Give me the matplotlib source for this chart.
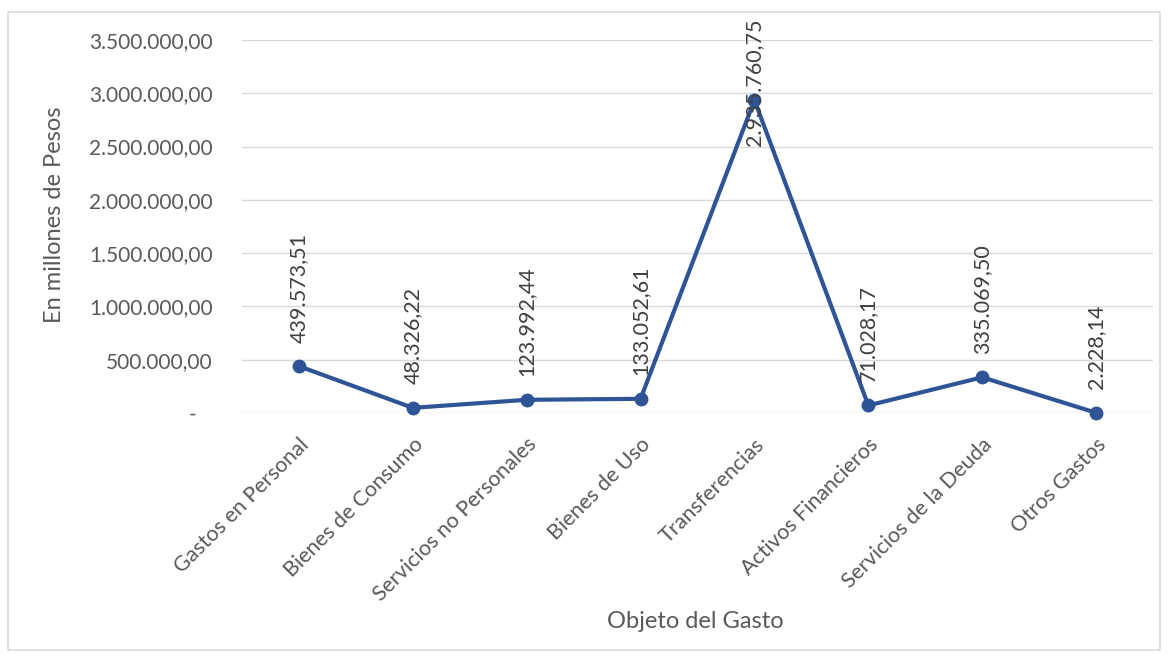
import matplotlib
matplotlib.use("Agg")
import matplotlib.pyplot as plt
from matplotlib.patches import Rectangle
from matplotlib.ticker import FixedLocator, FuncFormatter

# Gasto por objeto, en millones de pesos
categories = [
    "Gastos en Personal",
    "Bienes de Consumo",
    "Servicios no Personales",
    "Bienes de Uso",
    "Transferencias",
    "Activos Financieros",
    "Servicios de la Deuda",
    "Otros Gastos",
]
values = [439573.51, 48326.22, 123992.44, 133052.61, 2935760.75, 71028.17, 335069.50, 2228.14]
y_ticks = [0, 500000, 1000000, 1500000, 2000000, 2500000, 3000000, 3500000]

plt.rcParams["font.family"] = ["Lato", "DejaVu Sans"]

LINE = "#2F5496"
TXT = "#595959"
LBL = "#404040"


def fmt_es(v):
    s = f"{v:,.2f}"
    return s.replace(",", "X").replace(".", ",").replace("X", ".")


def tick_fmt(v, _):
    if v == 0:
        return "-   "
    return fmt_es(v)


fig = plt.figure(figsize=(11.68, 6.56), dpi=100)
fig.patch.set_facecolor("white")
fig.add_artist(Rectangle((8 / 1168, 6 / 656), 1152 / 1168, 638 / 656,
                         transform=fig.transFigure, fill=False,
                         edgecolor="#D9D9D9", linewidth=1.2))

ax = fig.add_axes([242 / 1168, 1 - 413 / 656, (1153 - 242) / 1168, (413 - 40) / 656])
x = list(range(len(categories)))
ax.plot(x, values, color=LINE, linewidth=3, marker="o", markersize=9,
        markerfacecolor=LINE, markeredgecolor=LINE, zorder=3, clip_on=False)

ax.set_xlim(-0.5, len(categories) - 0.5)
ax.set_ylim(0, 3500000)
ax.yaxis.set_major_locator(FixedLocator(y_ticks))
ax.yaxis.set_major_formatter(FuncFormatter(tick_fmt))
ax.grid(axis="y", color="#D9D9D9", linewidth=1)
ax.set_axisbelow(True)
for sp in ax.spines.values():
    sp.set_visible(False)
ax.tick_params(axis="y", length=0, pad=21, labelsize=15, labelcolor=TXT)
ax.tick_params(axis="x", length=0, pad=6, labelsize=15.5, labelcolor=TXT)
ax.set_xticks(x)
ax.set_xticklabels(categories, rotation=45, ha="right", va="top",
                   rotation_mode="anchor")
for t in ax.get_xticklabels():
    t.set_y(-0.035)

fig.text(55 / 1168, 1 - 215 / 656, "En millones de Pesos", fontsize=17,
         color=TXT, ha="center", va="center", rotation=90)
fig.text(695 / 1168, 1 - 622 / 656, "Objeto del Gasto", fontsize=17,
         color=TXT, ha="center", va="center")

# value labels above each point, kept inside the chart frame
labels = []
for xi, v in zip(x, values):
    a = ax.annotate(fmt_es(v), (xi, v), xytext=(0, 17), textcoords="offset points",
                    rotation=90, ha="center", va="bottom", fontsize=15.5,
                    color=LBL, zorder=4, annotation_clip=False)
    labels.append(a)

fig.canvas.draw()
renderer = fig.canvas.get_renderer()
top_limit = 656 - 18
for a in labels:
    bb = a.get_window_extent(renderer)
    if bb.y1 > top_limit:
        shift = (bb.y1 - top_limit) * 72 / fig.dpi
        ox, oy = a.xyann
        a.xyann = (ox, oy - shift)

fig.savefig("out.png", dpi=100, facecolor="white")
